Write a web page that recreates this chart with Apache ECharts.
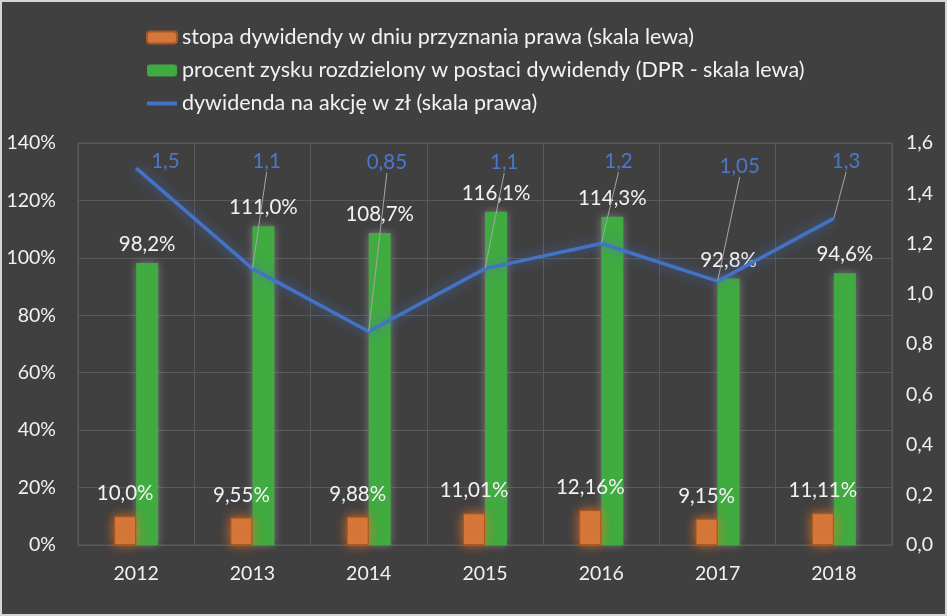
<!DOCTYPE html>
<html>
<head>
<meta charset="utf-8">
<script src="https://cdn.jsdelivr.net/npm/echarts@6/dist/echarts.min.js"></script>
<style>
html,body{margin:0;padding:0;background:#404040;}
#c{width:947px;height:616px;}
</style>
</head>
<body>
<div id="c"></div>
<script>
const years = ['2012','2013','2014','2015','2016','2017','2018'];
const stopaValues = [10.0, 9.55, 9.88, 11.01, 12.16, 9.15, 11.11];
const stopaLabels = ['10,0%','9,55%','9,88%','11,01%','12,16%','9,15%','11,11%'];
const dprValues = [98.2, 111.0, 108.7, 116.1, 114.3, 92.8, 94.6];
const dywidendaValues = [1.5, 1.1, 0.85, 1.1, 1.2, 1.05, 1.3];
const leftTicks = [0, 20, 40, 60, 80, 100, 120, 140];
const rightTicks = [0, 0.2, 0.4, 0.6, 0.8, 1.0, 1.2, 1.4, 1.6];
const seriesNames = [
  'stopa dywidendy w dniu przyznania prawa (skala lewa)',
  'procent zysku rozdzielony w postaci dywidendy (DPR - skala lewa)',
  'dywidenda na akcję w zł (skala prawa)'
];

const FONT = 'Lato';
const TXT = '#f2f2f2';
const chart = echarts.init(document.getElementById('c'));
const labelDx = [15, 0, -2, 5, 3, 2, -2];
const labelY = [151, 151, 152, 152, 151, 156, 151];

chart.setOption({
  backgroundColor: '#404040',
  textStyle: {fontFamily: FONT},
  graphic: [{
    type: 'rect', silent: true, z: 100,
    shape: {x: 1, y: 1, width: 945, height: 614},
    style: {fill: 'none', stroke: '#d6d6d6', lineWidth: 2}
  }],
  legend: {
    orient: 'vertical', left: 140, top: 21, itemGap: 10,
    itemWidth: 30, itemHeight: 12,
    textStyle: {color: TXT, fontSize: 21.5, lineHeight: 23, fontFamily: FONT},
    data: [seriesNames[0], seriesNames[1], {name: seriesNames[2], itemStyle: {opacity: 0}, lineStyle: {width: 4, shadowBlur: 0}}]
  },
  grid: {left: 78, right: 55, top: 143, bottom: 71, show: true, borderColor: '#5a5a5a', borderWidth: 1},
  xAxis: {
    type: 'category', data: years,
    axisLine: {show: false}, axisTick: {show: false},
    axisLabel: {color: TXT, fontSize: 19.5, margin: 19, fontFamily: FONT},
    splitLine: {show: true, lineStyle: {color: '#5a5a5a', width: 1}}
  },
  yAxis: [{
    type: 'value', min: leftTicks[0], max: leftTicks[leftTicks.length-1], interval: 20,
    axisLine: {show: false}, axisTick: {show: false},
    axisLabel: {color: TXT, fontSize: 19.5, margin: 22, fontFamily: FONT, formatter: v => v + '%'},
    splitLine: {lineStyle: {color: '#5a5a5a', width: 1}}
  }, {
    type: 'value', min: rightTicks[0], max: rightTicks[rightTicks.length-1], interval: 0.2,
    axisLine: {show: false}, axisTick: {show: false},
    axisLabel: {color: TXT, fontSize: 19.5, margin: 14, fontFamily: FONT, formatter: v => v.toFixed(1).replace('.', ',')},
    splitLine: {show: false}
  }],
  series: [{
    name: seriesNames[0], type: 'bar', yAxisIndex: 0, z: 3,
    data: stopaValues, barWidth: 22, barGap: '0%',
    itemStyle: {color: '#d4773a', borderColor: '#a9561f', borderWidth: 1, shadowBlur: 12, shadowColor: 'rgba(235,120,40,0.85)'},
    label: {show: true, position: 'top', distance: 12, color: TXT, fontSize: 20.5, fontFamily: FONT,
      formatter: p => stopaLabels[p.dataIndex]}
  }, {
    name: seriesNames[1], type: 'bar', yAxisIndex: 0, z: 2,
    data: dprValues, barWidth: 22,
    itemStyle: {color: '#40ab40', shadowBlur: 8, shadowColor: 'rgba(200,200,200,0.45)'},
    label: {show: true, position: 'top', distance: 8, color: TXT, fontSize: 20.5, fontFamily: FONT,
      formatter: p => p.value.toFixed(1).replace('.', ',') + '%'}
  }, {
    name: seriesNames[2], type: 'line', yAxisIndex: 1, z: 4,
    data: dywidendaValues.map((v, i) => i === 0 ? {value: v, labelLine: {show: false}} : v),
    symbol: 'circle', symbolSize: 1, showSymbol: true,
    lineStyle: {color: '#4472c4', width: 3.5, shadowBlur: 12, shadowColor: 'rgba(68,114,196,0.8)'},
    itemStyle: {color: '#4472c4'},
    label: {show: true, position: 'top', color: '#4a78cc', fontSize: 20.5, fontFamily: FONT,
      formatter: p => String(p.value).replace('.', ',')},
    labelLine: {show: true, lineStyle: {color: '#a6a6a6', width: 1}},
    labelLayout: function (params) {
      return {y: labelY[params.dataIndex], dx: labelDx[params.dataIndex]};
    }
  }]
});
</script>
</body>
</html>
